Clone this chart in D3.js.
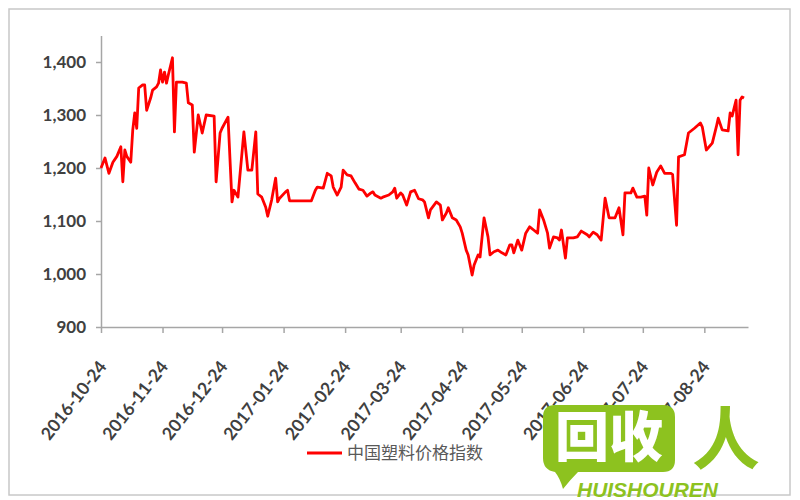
<!DOCTYPE html>
<html><head><meta charset="utf-8">
<script src="https://cdn.jsdelivr.net/npm/d3@7"></script>
<style>body{margin:0;background:#fff}</style>
</head><body><svg id="c" width="800" height="500"></svg>
<script>
const dates = [
"2016-10-24","2016-10-26","2016-10-28","2016-10-30","2016-11-01","2016-11-03","2016-11-04","2016-11-05","2016-11-06","2016-11-08",
"2016-11-09","2016-11-10","2016-11-11","2016-11-12","2016-11-14","2016-11-15","2016-11-16","2016-11-18","2016-11-19","2016-11-21",
"2016-11-22","2016-11-23","2016-11-24","2016-11-25","2016-11-26","2016-11-27","2016-11-29","2016-11-30","2016-12-01","2016-12-04",
"2016-12-06","2016-12-07","2016-12-09","2016-12-10","2016-12-12","2016-12-14","2016-12-16","2016-12-20","2016-12-21","2016-12-23",
"2016-12-24","2016-12-27","2016-12-29","2016-12-30","2017-01-01","2017-01-04","2017-01-06","2017-01-08","2017-01-10","2017-01-11",
"2017-01-13","2017-01-15","2017-01-16","2017-01-18","2017-01-20","2017-01-21","2017-01-22","2017-01-25","2017-01-26","2017-01-27",
"2017-02-07","2017-02-09","2017-02-10","2017-02-13","2017-02-15","2017-02-17","2017-02-18","2017-02-20","2017-02-22","2017-02-23",
"2017-02-25","2017-02-27","2017-03-01","2017-03-03","2017-03-05","2017-03-07","2017-03-09","2017-03-10","2017-03-11","2017-03-14",
"2017-03-15","2017-03-18","2017-03-20","2017-03-21","2017-03-22","2017-03-24","2017-03-25","2017-03-27","2017-03-29","2017-03-31",
"2017-04-02","2017-04-04","2017-04-05","2017-04-07","2017-04-08","2017-04-11","2017-04-13","2017-04-14","2017-04-16","2017-04-17",
"2017-04-19","2017-04-21","2017-04-23","2017-04-24","2017-04-26","2017-04-27","2017-04-29","2017-04-30","2017-05-02","2017-05-03",
"2017-05-05","2017-05-07","2017-05-08","2017-05-10","2017-05-12","2017-05-14","2017-05-16","2017-05-18","2017-05-19","2017-05-20",
"2017-05-22","2017-05-24","2017-05-26","2017-05-28","2017-05-30","2017-06-01","2017-06-02","2017-06-04","2017-06-06","2017-06-07",
"2017-06-09","2017-06-11","2017-06-12","2017-06-13","2017-06-15","2017-06-16","2017-06-19","2017-06-21","2017-06-23","2017-06-26",
"2017-06-27","2017-06-29","2017-07-01","2017-07-03","2017-07-05","2017-07-07","2017-07-10","2017-07-12","2017-07-14","2017-07-15",
"2017-07-18","2017-07-19","2017-07-21","2017-07-23","2017-07-25","2017-07-26","2017-07-27","2017-07-29","2017-07-31","2017-08-02",
"2017-08-04","2017-08-07","2017-08-08","2017-08-10","2017-08-11","2017-08-14","2017-08-16","2017-08-19","2017-08-22","2017-08-23",
"2017-08-25","2017-08-28","2017-08-30","2017-08-31","2017-09-02","2017-09-05","2017-09-06","2017-09-07","2017-09-09","2017-09-10",
"2017-09-11","2017-09-12","2017-09-13"
];
const values = [
1200,1219,1190,1211,1222,1240,1174,1234,1222,1211,
1272,1304,1275,1351,1357,1357,1309,1332,1347,1353,
1360,1385,1362,1381,1360,1377,1408,1268,1362,1362,
1360,1323,1319,1230,1300,1266,1300,1298,1174,1266,
1275,1296,1136,1158,1145,1268,1196,1196,1268,1151,
1145,1126,1109,1140,1181,1136,1143,1155,1158,1138,
1138,1158,1164,1162,1190,1185,1164,1149,1164,1196,
1187,1185,1172,1160,1158,1147,1153,1155,1149,1143,
1145,1149,1155,1162,1143,1153,1149,1130,1155,1158,
1142,1140,1136,1106,1121,1136,1130,1102,1115,1125,
1106,1102,1089,1077,1045,1036,998,1017,1036,1032,
1106,1070,1036,1042,1045,1040,1036,1055,1055,1040,
1064,1045,1077,1089,1083,1077,1121,1102,1077,1049,
1070,1068,1064,1083,1030,1068,1068,1070,1081,1074,
1070,1079,1074,1064,1143,1106,1106,1125,1074,1153,
1153,1162,1145,1145,1147,1111,1200,1168,1192,1204,
1190,1190,1188,1092,1221,1225,1266,1275,1285,1277,
1234,1247,1277,1294,1272,1270,1304,1298,1328,1225,
1328,1334,1332
];
const xTickLabels = ["2016-10-24","2016-11-24","2016-12-24","2017-01-24","2017-02-24","2017-03-24",
                     "2017-04-24","2017-05-24","2017-06-24","2017-07-24","2017-08-24"];
const yTicks = [900,1000,1100,1200,1300,1400];
const seriesName = "中国塑料价格指数";

const parse = d3.timeParse("%Y-%m-%d");
const data = dates.map((d,i)=>({date:parse(d), value:values[i]}));

const svg = d3.select("#c");
svg.append("rect").attr("x",9).attr("y",9).attr("width",781).attr("height",486)
  .attr("fill","#fff").attr("stroke","#c8c8c8").attr("stroke-width",1.5);

const x = d3.scaleTime().domain([parse("2016-10-24"), parse("2017-09-15")]).range([101,748]);
const y = d3.scaleLinear().domain([900,1450]).range([327,35.5]);

const font = "Lato, 'Liberation Sans', sans-serif";

// Y axis
const yAxis = svg.append("g").attr("transform","translate(101,0)")
  .call(d3.axisLeft(y).tickValues(yTicks).tickFormat(d3.format(",")).tickSize(5).tickSizeOuter(0).tickPadding(10));
yAxis.select(".domain").attr("stroke","#a6a6a6").attr("stroke-width",1.5);
yAxis.selectAll(".tick line").attr("stroke","#a6a6a6").attr("stroke-width",1.5);
yAxis.selectAll(".tick text").attr("font-family",font).attr("font-size",17).attr("fill","#404040")
  .attr("font-weight","bold");

// X axis
const xAxis = svg.append("g").attr("transform","translate(0,327)")
  .call(d3.axisBottom(x).tickValues(xTickLabels.map(parse)).tickSize(6).tickSizeOuter(0)
    .tickFormat((d,i)=>xTickLabels[i]));
xAxis.select(".domain").attr("stroke","#a6a6a6").attr("stroke-width",1.5);
xAxis.selectAll(".tick line").attr("stroke","#a6a6a6").attr("stroke-width",1.5);
xAxis.selectAll(".tick text")
  .attr("font-family",font).attr("font-size",17.5).attr("font-weight","bold").attr("fill","#404040")
  .attr("text-anchor","end").attr("dy",null).attr("y",null).attr("x",null)
  .attr("transform","translate(6,40) rotate(-52)");

// Line
const line = d3.line().x(d=>x(d.date)).y(d=>y(d.value));
svg.append("path").datum(data).attr("d",line).attr("fill","none")
  .attr("stroke","#ff0000").attr("stroke-width",2.8).attr("stroke-linejoin","round");

// Legend
const lg = svg.append("g");
lg.append("line").attr("x1",307).attr("x2",342).attr("y1",453).attr("y2",453)
  .attr("stroke","#ff0000").attr("stroke-width",3);
lg.append("text").attr("x",347).attr("y",459).text(seriesName)
  .attr("font-family","'Noto Sans CJK SC', sans-serif").attr("font-size",17).attr("fill","#595959");

// Watermark logo
const green = "#8dc21f";
const logo = svg.append("g");
logo.append("path")
  .attr("d","M555,405 H663 Q675,405 675,417 V460 Q675,472 663,472 H578 Q570,480 563,489 Q560,478 555,472 Q543,470 543,458 V417 Q543,405 555,405 Z")
  .attr("fill",green);
logo.append("text").attr("x",609).attr("y",457).attr("text-anchor","middle")
  .attr("font-family","'Noto Sans CJK SC', sans-serif").attr("font-weight",900).attr("font-size",54)
  .attr("fill","#fff").text("回收");
logo.append("text").attr("x",726).attr("y",464).attr("text-anchor","middle")
  .attr("font-family","'Noto Sans CJK SC', sans-serif").attr("font-weight",700).attr("font-size",68)
  .attr("fill",green).text("人");
logo.append("text").attr("x",577).attr("y",497).attr("textLength",141).attr("lengthAdjust","spacingAndGlyphs")
  .attr("font-family","'Liberation Sans', sans-serif").attr("font-weight","bold").attr("font-style","italic")
  .attr("font-size",20).attr("fill",green).text("HUISHOUREN");
</script>
</body></html>
